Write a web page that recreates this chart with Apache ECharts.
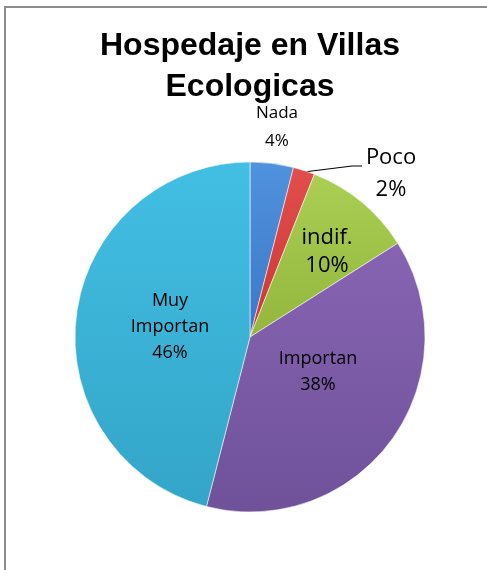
<!DOCTYPE html>
<html>
<head>
<meta charset="utf-8">
<script src="https://cdn.jsdelivr.net/npm/echarts@6/dist/echarts.min.js"></script>
<style>
html,body{margin:0;padding:0;background:#fff;}
#chart{width:487px;height:570px;}
</style>
</head>
<body>
<div id="chart"></div>
<script>
// ---- data ----
var titleText = 'Hospedaje en Villas\nEcologicas';
var categories = ['Nada', 'Poco', 'indif.', 'Importan', 'Muy\nImportan'];
var values = [4, 2, 10, 38, 46];

// ---- styles (separate from data) ----
var topColors = ['#5092de', '#e24e4b', '#aacf54', '#8764b2', '#42bfe3'];
var bottomColors = ['#3c77c6', '#c93734', '#93b63d', '#6f519a', '#33a5c8'];
var labelFont = [17, 22, 22, 18, 18];
var labelLH = [28, 32, 28, 26, 26];
var labelInside = [false, false, true, true, true];
var labelPos = [[277, 127], [391, 174], [327, 252], [318, 372], [170, 327]];

var chart = echarts.init(document.getElementById('chart'));

var data = categories.map(function (c, i) {
  return {
    name: c,
    value: values[i],
    itemStyle: {
      color: {
        type: 'linear', x: 0, y: 0, x2: 0, y2: 1,
        colorStops: [{offset: 0, color: topColors[i]}, {offset: 1, color: bottomColors[i]}]
      }
    },
    label: {
      position: labelInside[i] ? 'inside' : 'outside',
      fontSize: labelFont[i],
      lineHeight: labelLH[i]
    },
    labelLine: { show: i === 1 }
  };
});

chart.setOption({
  animation: false,
  backgroundColor: '#fff',
  graphic: [{
    type: 'rect',
    shape: { x: 5, y: 7, width: 500, height: 600 },
    style: { fill: 'none', stroke: '#8c8c8c', lineWidth: 2 },
    silent: true
  }],
  title: {
    text: titleText,
    left: 245,
    textAlign: 'center',
    top: 21,
    textStyle: {
      fontFamily: 'Liberation Sans',
      fontWeight: 'bold',
      fontSize: 32,
      lineHeight: 41,
      color: '#000'
    }
  },
  series: [{
    type: 'pie',
    center: [250, 337],
    radius: 175,
    startAngle: 90,
    clockwise: true,
    data: data,
    itemStyle: {
      borderColor: 'rgba(255,255,255,0.55)',
      borderWidth: 1
    },
    label: {
      show: true,
      formatter: function (p) { return p.name + '\n' + p.value + '%'; },
      fontFamily: 'Open Sans',
      color: '#000',
      align: 'center',
      overflow: 'none'
    },
    labelLine: {
      show: false,
      length: 20,
      length2: 8,
      lineStyle: { color: '#000', width: 1.2 }
    },
    labelLayout: function (params) {
      var i = params.dataIndex;
      var res = {
        x: labelPos[i][0],
        y: labelPos[i][1],
        align: 'center',
        verticalAlign: 'middle',
        hideOverlap: false
      };
      if (i === 1) {
        res.labelLinePoints = [[304, 172], [352, 166], [362, 166]];
      }
      return res;
    }
  }]
});
</script>
</body>
</html>
